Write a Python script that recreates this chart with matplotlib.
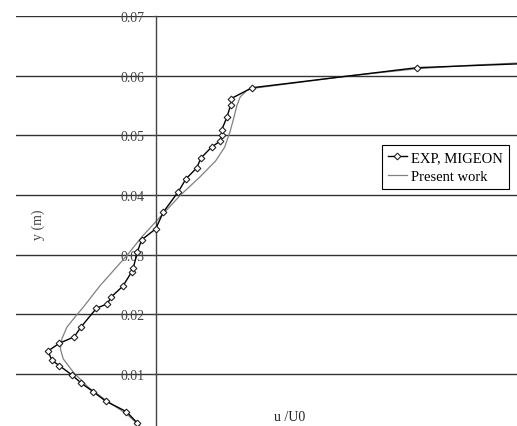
import numpy as np
import matplotlib.pyplot as plt

# EXP, MIGEON (u/U0, y in m)
exp_u = [-0.052, -0.082, -0.140, -0.174, -0.207, -0.233, -0.268, -0.289, -0.299,
         -0.268, -0.227, -0.207, -0.165, -0.135, -0.125, -0.092, -0.067, -0.063,
         -0.052, -0.040, -0.001, 0.020, 0.062, 0.083, 0.113, 0.124, 0.154, 0.176,
         0.182, 0.182, 0.196, 0.207, 0.207, 0.266, 0.722, 1.230]
exp_y = [0.00176, 0.00366, 0.00545, 0.00701, 0.00842, 0.00982, 0.01138, 0.01228,
         0.01384, 0.01513, 0.01619, 0.01792, 0.02101, 0.02173, 0.02285, 0.0247,
         0.02715, 0.02777, 0.0304, 0.03247, 0.03431, 0.03711, 0.04057, 0.0427,
         0.04455, 0.04617, 0.04802, 0.04896, 0.05008, 0.05092, 0.05299, 0.05512,
         0.05612, 0.05797, 0.06133, 0.0625]

# Present work
sim_u = [-0.036, -0.044, -0.081, -0.137, -0.188, -0.229, -0.257, -0.265, -0.261,
         -0.247, -0.225, -0.200, -0.155, -0.081, -0.040, 0.002, 0.067, 0.122, 0.165,
         0.190, 0.205, 0.214, 0.224, 0.233, 0.251, 0.270, 0.399, 0.537, 0.723, 0.870,
         1.000, 1.230]
sim_y = [0.0, 0.00121, 0.00327, 0.0055, 0.00775, 0.01027, 0.0125, 0.01418, 0.01586,
         0.01782, 0.01950, 0.0213, 0.0248, 0.02983, 0.03292, 0.0357, 0.03993, 0.04304,
         0.04570, 0.04800, 0.05060, 0.0526, 0.055, 0.05641, 0.05752, 0.05789, 0.05889,
         0.05998, 0.06116, 0.06174, 0.06211, 0.0625]

y_ticks = [0.01, 0.02, 0.03, 0.04, 0.05, 0.06, 0.07]
y_labels = ['0.01', '0.02', '0.03', '0.04', '0.05', '0.06', '0.07']

plt.rcParams['font.family'] = ['Liberation Serif', 'DejaVu Serif']

W, H = 517, 427
fig = plt.figure(figsize=(W / 100, H / 100), dpi=100)
ax = fig.add_axes([16 / W, -7.5 / H, 501 / W, 417.5 / H])

ax.set_xlim(-0.388, 1.0)
ax.set_ylim(0, 0.07)

# horizontal grid
for t in y_ticks:
    ax.axhline(t, color='#333333', lw=1.0, zorder=1)

ax.plot(exp_u, exp_y, color='black', lw=1.0, marker='D', markersize=3.4,
        markerfacecolor='white', markeredgecolor='#222222', markeredgewidth=0.8,
        label='EXP, MIGEON', zorder=3)
ax.plot(sim_u, sim_y, color='#808080', lw=0.9, label='Present work', zorder=2)

for s in ['top', 'right', 'bottom']:
    ax.spines[s].set_visible(False)
ax.spines['left'].set_position(('data', 0))
ax.spines['left'].set_color('#444444')
ax.spines['left'].set_linewidth(1.0)

ax.set_xticks([])
ax.set_yticks(y_ticks)
ax.set_yticklabels(y_labels)
ax.tick_params(axis='y', direction='out', length=3, width=0.8, color='#444444',
               labelsize=10, labelcolor='#444444', pad=5)

fig.text(38 / W, 1 - 225 / H, 'y (m)', rotation=90, ha='center', va='center',
         fontsize=10, color='#444444')
fig.text(290 / W, 1 - 418 / H, 'u /U0', ha='center', va='center',
         fontsize=10, color='#222222')

leg = ax.legend(loc='upper right', bbox_to_anchor=(509 / W, 1 - 146 / H),
                bbox_transform=fig.transFigure, fancybox=False, framealpha=1,
                edgecolor='black', fontsize=10.5, handlelength=1.3,
                borderpad=0.4, labelspacing=0.4, handletextpad=0.3,
                borderaxespad=0)
leg.get_frame().set_linewidth(0.8)

fig.savefig('out.png', dpi=100)
